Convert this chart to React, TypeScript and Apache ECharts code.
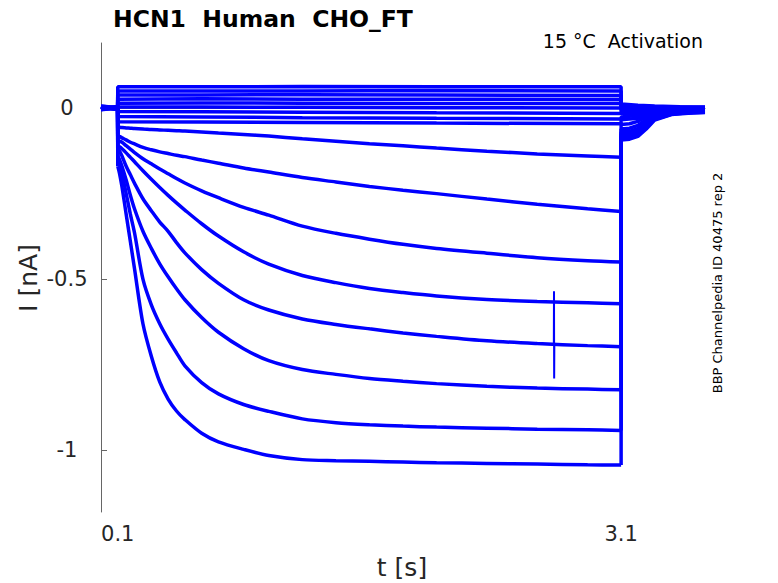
import React, { useEffect, useRef } from "react";
import * as echarts from "echarts";

// Time points (s) for the activation traces
const T = [0, 0.099, 0.1, 0.11, 0.125, 0.15, 0.175, 0.2, 0.25, 0.3, 0.35, 0.4, 0.45, 0.5, 0.6, 0.7, 0.85, 1.0, 1.2, 1.4, 1.6, 1.8, 2.0, 2.3, 2.6, 2.9, 3.1, 3.1001, 3.15, 3.2, 3.25, 3.3, 3.4, 3.5, 3.6];

// Currents (nA) of the activating traces, deepest first
const TRACE_A = [0.004, -0.003, -0.17, -0.19, -0.23, -0.31, -0.39, -0.47, -0.63, -0.725, -0.8, -0.85, -0.885, -0.91, -0.95, -0.975, -0.997, -1.015, -1.027, -1.03, -1.032, -1.034, -1.036, -1.038, -1.04, -1.042, -1.043, -0.093, -0.091, -0.083, -0.061, -0.035, -0.019, -0.015, -0.013];
const TRACE_B = [-0.002, 0.003, -0.15, -0.16, -0.19, -0.25, -0.31, -0.365, -0.5, -0.575, -0.63, -0.675, -0.715, -0.753, -0.802, -0.835, -0.866, -0.886, -0.908, -0.919, -0.925, -0.929, -0.932, -0.935, -0.938, -0.94, -0.942, -0.089, -0.087, -0.079, -0.057, -0.033, -0.018, -0.014, -0.012];
const TRACE_C = [0.006, 0.001, -0.14, -0.15, -0.17, -0.21, -0.255, -0.295, -0.36, -0.41, -0.455, -0.493, -0.528, -0.56, -0.612, -0.655, -0.703, -0.738, -0.764, -0.778, -0.79, -0.798, -0.805, -0.813, -0.818, -0.821, -0.823, -0.085, -0.083, -0.075, -0.053, -0.03, -0.016, -0.013, -0.011];
const TRACE_D = [-0.004, 0.002, -0.12, -0.125, -0.14, -0.17, -0.195, -0.22, -0.265, -0.3, -0.333, -0.36, -0.393, -0.423, -0.472, -0.512, -0.56, -0.59, -0.616, -0.632, -0.645, -0.657, -0.667, -0.68, -0.688, -0.694, -0.697, -0.081, -0.079, -0.071, -0.049, -0.028, -0.015, -0.012, -0.01];
const TRACE_E = [0.002, -0.004, -0.11, -0.113, -0.119, -0.131, -0.144, -0.157, -0.183, -0.208, -0.232, -0.255, -0.277, -0.298, -0.338, -0.374, -0.42, -0.456, -0.489, -0.51, -0.527, -0.539, -0.549, -0.559, -0.565, -0.569, -0.572, -0.076, -0.074, -0.066, -0.045, -0.025, -0.013, -0.01, -0.008];
const TRACE_F = [-0.001, 0.004, -0.1, -0.097, -0.1, -0.11, -0.12, -0.13, -0.148, -0.163, -0.178, -0.192, -0.206, -0.219, -0.242, -0.262, -0.29, -0.313, -0.345, -0.366, -0.383, -0.398, -0.41, -0.424, -0.437, -0.446, -0.45, -0.07, -0.068, -0.06, -0.04, -0.022, -0.011, -0.008, -0.006];
const TRACE_G = [0.003, -0.002, -0.085, -0.083, -0.087, -0.093, -0.1, -0.105, -0.115, -0.122, -0.128, -0.133, -0.138, -0.142, -0.152, -0.161, -0.175, -0.187, -0.203, -0.216, -0.229, -0.24, -0.25, -0.266, -0.281, -0.294, -0.302, -0.061, -0.059, -0.051, -0.033, -0.018, -0.008, -0.005, -0.003];
const TRACE_H = [-0.003, 0.001, -0.06, -0.056, -0.057, -0.058, -0.059, -0.06, -0.061, -0.063, -0.064, -0.065, -0.066, -0.067, -0.07, -0.073, -0.077, -0.082, -0.09, -0.097, -0.104, -0.11, -0.117, -0.126, -0.134, -0.14, -0.144, -0.048, -0.046, -0.039, -0.025, -0.013, -0.005, -0.003, -0.001];

// Glitch on trace D around t = 2.7 s
const SPIKE_T = [2.699, 2.7, 2.701, 2.702];
const SPIKE_V = [-0.689, -0.535, -0.79, -0.689];

// Time points (s) for the non-activating (near-zero) traces
const TC = [0, 0.099, 0.1, 0.6, 1.2, 2.0, 3.1, 3.1001, 3.2, 3.3, 3.45, 3.6];
const FLAT_1 = [0.003, -0.002, 0.062, 0.062, 0.063, 0.062, 0.062, 0.012, 0.008, 0.006, 0.004, 0.003];
const FLAT_2 = [-0.004, 0.002, 0.05, 0.05, 0.05, 0.051, 0.05, 0.008, 0.005, 0.004, 0.003, 0.002];
const FLAT_3 = [0.005, 0.001, 0.038, 0.038, 0.039, 0.038, 0.037, 0.004, 0.002, 0.002, 0.001, 0.0];
const FLAT_4 = [-0.002, 0.004, 0.026, 0.027, 0.026, 0.026, 0.025, 0.0, -0.001, 0.0, -0.001, -0.002];
const FLAT_5 = [0.002, -0.003, 0.014, 0.015, 0.014, 0.013, 0.013, -0.006, -0.005, -0.004, -0.003, -0.002];
const FLAT_6 = [-0.005, 0.0, 0.003, 0.003, 0.002, 0.001, 0.0, -0.012, -0.01, -0.007, -0.005, -0.004];
const FLAT_7 = [0.004, -0.001, -0.01, -0.011, -0.012, -0.014, -0.016, -0.018, -0.015, -0.01, -0.007, -0.005];
const FLAT_8 = [-0.001, 0.003, -0.025, -0.026, -0.028, -0.03, -0.032, -0.026, -0.022, -0.015, -0.01, -0.008];
const FLAT_9 = [0.001, -0.004, -0.04, -0.041, -0.042, -0.044, -0.046, -0.034, -0.03, -0.02, -0.014, -0.01];

const X_TICKS = [0.1, 3.1];
const Y_TICKS = [-1, -0.5, 0];

const TITLE = "HCN1  Human  CHO_FT";
const SUBTITLE = "15 °C  Activation";
const SIDE_NOTE = "BBP Channelpedia ID 40475 rep 2";
const X_NAME = "t [s]";
const Y_NAME = "I [nA]";

const FONT = "'DejaVu Sans', 'Noto Sans', sans-serif";
const BLUE = "#0000ff";

// Index range of the voltage step inside T (t = 0.1 .. 3.1)
const STEP_START = T.indexOf(0.1);
const STEP_END = T.indexOf(3.1);

function zip(ts: number[], vs: number[]): number[][] {
  return ts.map((t, i) => [t, vs[i]]);
}

export default function App() {
  const ref = useRef<HTMLDivElement>(null);

  useEffect(() => {
    if (!ref.current) return;
    const chart = echarts.init(ref.current, null, { renderer: "svg" });

    const deep = [TRACE_A, TRACE_B, TRACE_C, TRACE_D, TRACE_E, TRACE_F, TRACE_G, TRACE_H];
    const flat = [FLAT_1, FLAT_2, FLAT_3, FLAT_4, FLAT_5, FLAT_6, FLAT_7, FLAT_8, FLAT_9];

    const lineBase = {
      type: "line",
      showSymbol: false,
      symbol: "none",
      silent: true,
      lineStyle: { color: BLUE, width: 3.5 },
      itemStyle: { color: BLUE },
    };

    const series: any[] = [];
    flat.forEach((vs) => series.push({ ...lineBase, data: zip(TC, vs) }));
    deep.forEach((vs) => {
      const all = zip(T, vs);
      // before the step, including the jump onto the step
      series.push({ ...lineBase, data: all.slice(0, STEP_START + 1) });
      // during the step: smooth curve
      series.push({
        ...lineBase,
        smooth: 0.3,
        data: all.slice(STEP_START, STEP_END + 1),
      });
      // jump off the step and tail
      series.push({ ...lineBase, data: all.slice(STEP_END) });
    });
    series.push({ ...lineBase, lineStyle: { color: BLUE, width: 2 }, data: zip(SPIKE_T, SPIKE_V) });

    const axisColor = "#666666";
    const labelColor = "#262626";

    chart.setOption({
      animation: false,
      backgroundColor: "#ffffff",
      grid: { left: 101, top: 43, right: 73, bottom: 71, containLabel: false },
      xAxis: {
        type: "value",
        min: 0,
        max: 3.6,
        axisLine: { show: true, lineStyle: { color: axisColor, width: 1 } },
        axisTick: { show: true, inside: true, length: 6, customValues: X_TICKS, lineStyle: { color: axisColor } },
        axisLabel: {
          customValues: X_TICKS,
          formatter: (v: number) => String(v),
          color: labelColor,
          fontSize: 21,
          fontFamily: FONT,
          margin: 11,
        },
        splitLine: { show: false },
      },
      yAxis: {
        type: "value",
        min: -1.18,
        max: 0.19,
        axisLine: { show: true, lineStyle: { color: axisColor, width: 1 } },
        axisTick: { show: true, inside: true, length: 6, customValues: Y_TICKS, lineStyle: { color: axisColor } },
        axisLabel: {
          customValues: Y_TICKS,
          formatter: (v: number) => String(v),
          color: labelColor,
          fontSize: 21,
          fontFamily: FONT,
          align: "center",
          margin: 34,
        },
        splitLine: { show: false },
      },
      graphic: [
        {
          type: "text",
          x: 113,
          y: 19,
          style: {
            text: TITLE,
            fill: "#000000",
            fontSize: 23.5,
            fontWeight: "bold",
            fontFamily: FONT,
            align: "left",
            verticalAlign: "middle",
            textAlign: "left",
            textVerticalAlign: "middle",
          },
        },
        {
          type: "text",
          x: 703,
          y: 41,
          style: {
            text: SUBTITLE,
            fill: "#000000",
            fontSize: 19,
            fontFamily: FONT,
            align: "right",
            verticalAlign: "middle",
            textAlign: "right",
            textVerticalAlign: "middle",
          },
        },
        {
          type: "text",
          x: 717,
          y: 283,
          rotation: Math.PI / 2,
          style: {
            text: SIDE_NOTE,
            fill: "#000000",
            fontSize: 13,
            fontFamily: FONT,
            align: "center",
            verticalAlign: "middle",
            textAlign: "center",
            textVerticalAlign: "middle",
          },
        },
        {
          type: "text",
          x: 402,
          y: 567,
          style: {
            text: X_NAME,
            fill: labelColor,
            fontSize: 25,
            fontFamily: FONT,
            align: "center",
            verticalAlign: "middle",
            textAlign: "center",
            textVerticalAlign: "middle",
          },
        },
        {
          type: "text",
          x: 28,
          y: 278,
          rotation: Math.PI / 2,
          style: {
            text: Y_NAME,
            fill: labelColor,
            fontSize: 25,
            fontFamily: FONT,
            align: "center",
            verticalAlign: "middle",
            textAlign: "center",
            textVerticalAlign: "middle",
          },
        },
      ],
      series,
    });

    return () => chart.dispose();
  }, []);

  return (
    <div
      ref={ref}
      style={{ position: "fixed", left: 0, top: 0, width: 778, height: 583, background: "#fff" }}
    />
  );
}
